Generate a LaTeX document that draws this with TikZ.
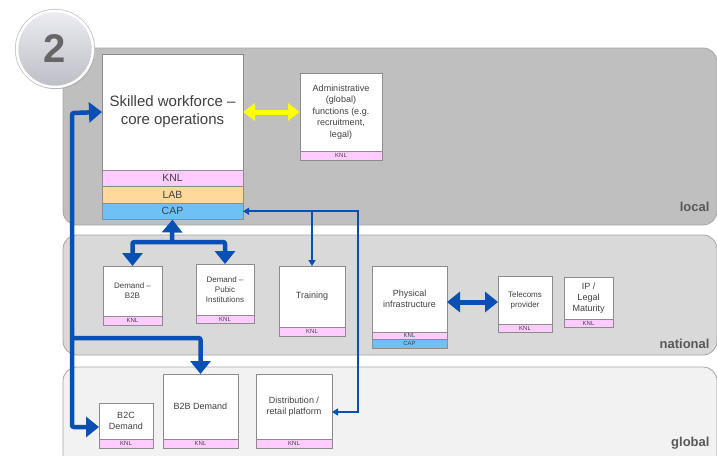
\documentclass[tikz,border=0pt]{standalone}
\usepackage{fontspec}
\setmainfont{Liberation Sans}
\usetikzlibrary{arrows.meta,shadows}

\definecolor{knl}{HTML}{FFCCFF}
\definecolor{lab}{HTML}{FFD999}
\definecolor{cap}{HTML}{6EC1F5}
\definecolor{bl}{HTML}{0A50B4}
\definecolor{ylw}{HTML}{FFFF00}
\definecolor{txt}{HTML}{404040}
\definecolor{lbl}{HTML}{595959}
\definecolor{boxline}{HTML}{8C8C8C}
\definecolor{panelline}{HTML}{A6A6A6}
\definecolor{pLocal}{HTML}{BFBFBF}
\definecolor{pNational}{HTML}{D9D9D9}
\definecolor{pGlobal}{HTML}{F2F2F2}
\definecolor{badgeTop}{HTML}{ECECF2}
\definecolor{badgeBot}{HTML}{BDBDC6}

\tikzset{
  box/.style={draw=boxline, fill=white, line width=0.8pt, inner sep=1pt, outer sep=0pt,
    align=center, anchor=north west, text=txt},
  band/.style={draw=boxline, line width=0.8pt, inner sep=0pt, outer sep=0pt, anchor=north west,
    text=txt, font=\fontsize{6}{6}\selectfont},
  bigband/.style={band, font=\fontsize{10.5}{10.5}\selectfont},
  panel/.style={draw=panelline, line width=0.8pt, rounded corners=14pt},
  level/.style={anchor=base east, text=lbl, font=\bfseries\fontsize{13}{13}\selectfont},
  thicktip/.tip={Triangle[width=20pt,length=13pt]},
  thintip/.tip={Triangle[width=7pt,length=6pt]},
  yellowtip/.tip={Triangle[width=17pt,length=12pt]},
  bthick/.style={draw=bl, line width=4.5pt, rounded corners=2pt},
  bthin/.style={draw=bl, line width=1.8pt},
}

\begin{document}
\begin{tikzpicture}[x=1pt,y=-1pt]
\useasboundingbox (0,0) rectangle (717,455);
\clip (0,0) rectangle (717,455);

% level panels
\fill[white] (0,0) rectangle (717,455);
\draw[panel, fill=pLocal] (63,48) rectangle (717,225);
\draw[panel, fill=pNational] (63,235) rectangle (717,355);
\draw[panel, fill=pGlobal] (63,367) rectangle (717,480);

\node[level] (lLocal) at (713,211) {local};
\node[level] (lNational) at (713,348) {national};
\node[level] (lGlobal) at (713,446) {global};

% step badge with its soft outer rim
\draw[draw=gray!45, line width=1pt] (55,49) circle[radius=39.6];
\node[circle, minimum size=76pt, draw=white, line width=2.5pt,
  top color=badgeTop, bottom color=badgeBot,
  drop shadow={opacity=0.35, shadow xshift=1.5pt, shadow yshift=-2pt},
  text=black!60, font=\bfseries\fontsize{40}{40}\selectfont] (badge) at (55,49) {2};

% local level
\node[box, minimum width=141pt, minimum height=116pt,
  font=\fontsize{15}{18}\selectfont] (sk) at (102,54)
  {Skilled workforce \textendash\\core operations};
\node[bigband, fill=knl, minimum width=141pt, minimum height=16.5pt] (skknl) at (sk.south west) {KNL};
\node[bigband, fill=lab, minimum width=141pt, minimum height=16.5pt] (sklab) at (skknl.south west) {LAB};
\node[bigband, fill=cap, minimum width=141pt, minimum height=16.5pt] (skcap) at (sklab.south west) {CAP};

\node[box, minimum width=82pt, minimum height=78pt,
  font=\fontsize{9}{11.5}\selectfont] (adm) at (300,73)
  {Administrative\\(global)\\functions (e.g.\\recruitment,\\legal)};
\node[band, fill=knl, minimum width=82pt, minimum height=9pt] (admknl) at (adm.south west) {KNL};

% national level
\node[box, minimum width=59pt, minimum height=50pt,
  font=\fontsize{8}{10}\selectfont] (db2b) at (103,266) {Demand \textendash\\B2B};
\node[band, fill=knl, minimum width=59pt, minimum height=9pt] (db2bknl) at (db2b.south west) {KNL};

\node[box, minimum width=58pt, minimum height=51pt,
  font=\fontsize{8}{10}\selectfont] (dpub) at (196,264) {Demand \textendash\\Pubic\\Institutions};
\node[band, fill=knl, minimum width=58pt, minimum height=8.5pt] (dpubknl) at (dpub.south west) {KNL};

\node[box, minimum width=66pt, minimum height=61pt,
  font=\fontsize{9}{11}\selectfont] (train) at (279,266) {Training};
\node[band, fill=knl, minimum width=66pt, minimum height=9pt] (trainknl) at (train.south west) {KNL};

\node[box, minimum width=75pt, minimum height=66pt,
  font=\fontsize{9}{11}\selectfont] (phys) at (372,266) {Physical\\infrastructure};
\node[band, fill=knl, minimum width=75pt, minimum height=7.5pt] (physknl) at (phys.south west) {KNL};
\node[band, fill=cap, minimum width=75pt, minimum height=8.5pt] (physcap) at (physknl.south west) {CAP};

\node[box, minimum width=54pt, minimum height=48pt,
  font=\fontsize{8}{10}\selectfont] (tel) at (498,276) {Telecoms\\provider};
\node[band, fill=knl, minimum width=54pt, minimum height=8pt] (telknl) at (tel.south west) {KNL};

\node[box, minimum width=49pt, minimum height=42pt,
  font=\fontsize{9}{11}\selectfont] (ip) at (564,277) {IP /\\Legal\\Maturity};
\node[band, fill=knl, minimum width=49pt, minimum height=8pt] (ipknl) at (ip.south west) {KNL};

% global level
\node[box, minimum width=54pt, minimum height=36pt,
  font=\fontsize{9}{11}\selectfont] (b2c) at (99,403) {B2C\\Demand};
\node[band, fill=knl, minimum width=54pt, minimum height=9pt] (b2cknl) at (b2c.south west) {KNL};

\node[box, minimum width=75pt, minimum height=65pt,
  font=\fontsize{9}{11}\selectfont] (gb2b) at (163,374) {B2B Demand};
\node[band, fill=knl, minimum width=75pt, minimum height=9pt] (gb2bknl) at (gb2b.south west) {KNL};

\node[box, minimum width=76pt, minimum height=65pt,
  font=\fontsize{9}{11}\selectfont] (dist) at (256,374) {Distribution /\\retail platform};
\node[band, fill=knl, minimum width=76pt, minimum height=9pt] (distknl) at (dist.south west) {KNL};

% connectors
\draw[draw=ylw, line width=5pt, {yellowtip}-{yellowtip}] (sk.east) -- (adm.west);

\coordinate (fork) at (172,242);
\draw[bthick, -{thicktip}] (fork) -- (skcap.south);
\draw[bthick, -{thicktip}] (fork) -| (db2b.north);
\draw[bthick, -{thicktip}] (fork) -| (dpub.north);

\coordinate (lt) at (72,113);
\coordinate (lb) at (72,427);
\coordinate (lm) at (72,338);
\draw[bthick, {thicktip}-{thicktip}] (sk.west) -- (lt) -- (lb) -- (lb -| b2c.west);
\draw[bthick, -{thicktip}] (lm) -| (gb2b.north);

\coordinate (rb) at (358,412);
\draw[bthin, {thintip}-{thintip}] (skcap.east) -| (rb) -- (rb -| dist.east);
\draw[bthin, -{thintip}] (skcap.east -| train.north) -- (train.north);

\draw[bthick, line width=5pt, {thicktip}-{thicktip}] (phys.east |- 0,302) -- (tel.west |- 0,302);
\end{tikzpicture}
\end{document}
